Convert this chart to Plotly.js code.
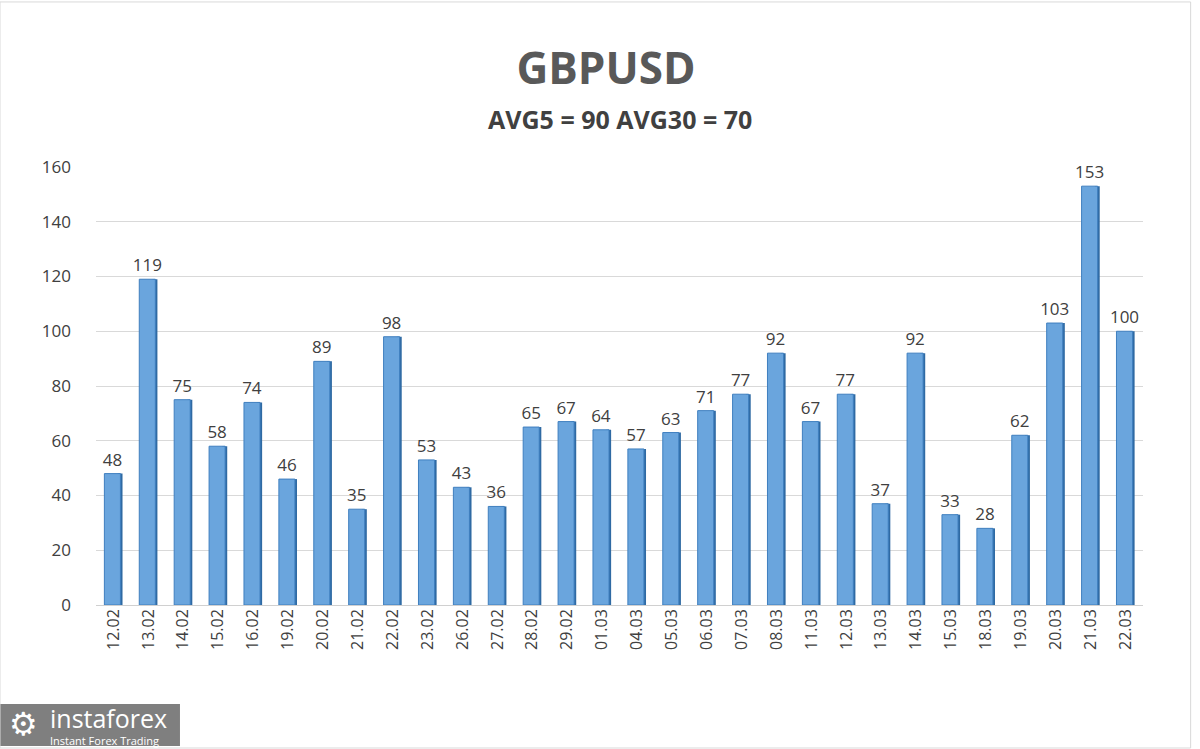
<!DOCTYPE html>
<html><head><meta charset="utf-8">
<script src="https://cdn.plot.ly/plotly-3.0.1.min.js"></script>
<style>html,body{margin:0;padding:0;background:#fff;}#chart{width:1200px;height:749px;}</style>
</head><body><div id="chart"></div>
<script>
const dates = ["12.02","13.02","14.02","15.02","16.02","19.02","20.02","21.02","22.02","23.02","26.02","27.02","28.02","29.02","01.03","04.03","05.03","06.03","07.03","08.03","11.03","12.03","13.03","14.03","15.03","18.03","19.03","20.03","21.03","22.03"];
const values = [48,119,75,58,74,46,89,35,98,53,43,36,65,67,64,57,63,71,77,92,67,77,37,92,33,28,62,103,153,100];
const chartTitle = "GBPUSD";
const subTitle = "AVG5 = 90 AVG30 = 70";
const yTicks = [0,20,40,60,80,100,120,140,160];

const side = {
  type: 'bar', x: dates, y: values, width: 0.14, offset: 0.12,
  marker: {color: '#2f6aa3', line: {width: 0}},
  hoverinfo: 'skip', showlegend: false
};
const front = {
  type: 'bar', x: dates, y: values, width: 0.46, offset: -0.26,
  marker: {color: '#6aa5dd', line: {color: '#3f7fbf', width: 1}},
  text: values.map(String), textposition: 'outside', cliponaxis: false, constraintext: 'none',
  textfont: {family: 'Open Sans, sans-serif', size: 17, color: '#404040'},
  showlegend: false
};

const layout = {
  width: 1200, height: 749,
  margin: {l: 96, r: 57, t: 167, b: 144},
  paper_bgcolor: '#ffffff', plot_bgcolor: '#ffffff',
  barmode: 'overlay',
  font: {family: 'Open Sans, sans-serif', color: '#404040'},
  title: {text: chartTitle, x: 0.505, xanchor: 'center', y: 0.909, yanchor: 'middle',
          font: {family: 'Open Sans, sans-serif', size: 44, color: '#595959', weight: 'bold'}},
  xaxis: {type: 'category', range: [-0.5, 29.5], tickangle: -90, showgrid: false, zeroline: false,
          showline: false, ticks: '', tickfont: {size: 16, color: '#404040'}},
  yaxis: {range: [0, 160], tickvals: yTicks, showgrid: true, gridcolor: '#d9d9d9', gridwidth: 1,
          zeroline: true, zerolinecolor: '#d0d0d0', showline: false, ticks: '', ticklabelstandoff: 24,
          tickfont: {size: 17, color: '#404040'}},
  annotations: [
    {text: '<b>' + subTitle + '</b>', xref: 'paper', yref: 'paper', x: 0.5, y: 1.1096, xanchor: 'center', yanchor: 'middle',
     showarrow: false, font: {size: 25, color: '#404040'}},
    {text: '⚙', xref: 'paper', yref: 'paper', x: -0.0688, y: -0.2717, xanchor: 'center',
     yanchor: 'middle', showarrow: false, font: {size: 32, color: '#ffffff', family: 'DejaVu Sans'}},
    {text: 'instaforex', xref: 'paper', yref: 'paper', x: -0.0458, y: -0.258, xanchor: 'left',
     yanchor: 'middle', showarrow: false, font: {size: 25, color: '#ffffff', family: 'Open Sans, sans-serif'}},
    {text: 'Instant Forex Trading', xref: 'paper', yref: 'paper', x: -0.0458, y: -0.3085, xanchor: 'left',
     yanchor: 'middle', showarrow: false, font: {size: 11, color: '#ffffff', family: 'Open Sans, sans-serif'}}
  ],
  shapes: [
    {type: 'rect', xref: 'paper', yref: 'paper', x0: -0.0917, x1: 0.0802, y0: -0.322, y1: -0.226,
     fillcolor: '#7f7f7f', line: {width: 0}, layer: 'below'},
    {type: 'rect', xref: 'paper', yref: 'paper', x0: -0.0917, x1: 1.0455, y0: -0.3265, y1: 1.3768,
     fillcolor: 'rgba(0,0,0,0)', line: {color: '#d9d9d9', width: 1}}
  ]
};
Plotly.newPlot('chart', [side, front], layout, {displayModeBar: false});
</script></body></html>
